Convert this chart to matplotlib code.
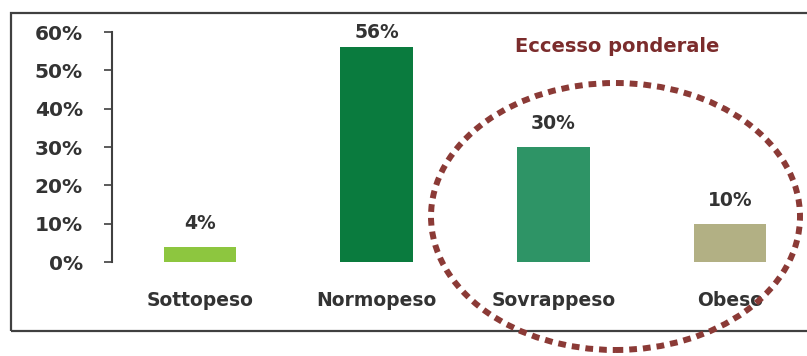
import matplotlib.pyplot as plt
from matplotlib.patches import Ellipse, Rectangle
from matplotlib.ticker import FuncFormatter

# Distribuzione per stato ponderale
categorie = ['Sottopeso', 'Normopeso', 'Sovrappeso', 'Obeso']
valori = [4, 56, 30, 10]
colori = ['#8DC63F', '#0A7B3E', '#2E9466', '#B2B084']
yticks = [0, 10, 20, 30, 40, 50, 60]

plt.rcParams['font.family'] = 'DejaVu Sans'
plt.rcParams['font.weight'] = 'bold'

fig = plt.figure(figsize=(8.07, 3.56), dpi=100)
ax = fig.add_axes([0.1388, 0.264, 0.8612, 0.646])

x = range(len(categorie))
ax.bar(x, valori, width=0.41, color=colori)

ymax = 60
for xi, v in zip(x, valori):
    # l'etichetta resta dentro la cornice quando la barra è alta
    off = 10 if v < ymax - 8 else 4
    ax.annotate(f'{v}%', (xi, v), xytext=(0, off), textcoords='offset points',
                ha='center', va='bottom', fontsize=13.5, fontweight='bold',
                color='#333333')

ax.set_xlim(-0.498, 3.436)
ax.set_ylim(0, ymax)
ax.set_yticks(yticks)
ax.yaxis.set_major_formatter(FuncFormatter(lambda v, p: f'{v:.0f}%'))
ax.set_xticks(list(x))
ax.set_xticklabels(categorie)

for s in ['top', 'right', 'bottom']:
    ax.spines[s].set_visible(False)
ax.spines['left'].set_color('#404040')
ax.spines['left'].set_linewidth(1.5)

ax.tick_params(axis='y', length=6, width=1.2, color='#404040', pad=15,
               labelsize=14.5, labelcolor='#333333')
ax.tick_params(axis='x', length=0, pad=21, labelsize=13.5, labelcolor='#333333')
for lab in ax.get_xticklabels() + ax.get_yticklabels():
    lab.set_fontweight('bold')

# cornice attorno al grafico
W, H = 807, 356
fig.patches.append(Rectangle((11 / W, 1 - 331 / H), 1, (331 - 13) / H,
                             transform=fig.transFigure, fill=False,
                             edgecolor='#404040', linewidth=1.6))

# ellisse tratteggiata per l'eccesso ponderale
fig.patches.append(Ellipse((615.5 / W, 1 - 216.5 / H), 369 / W, 267 / H,
                           transform=fig.transFigure, fill=False,
                           edgecolor='#8B3A36', linewidth=4.3,
                           linestyle=(0, (1.3, 1.0)), zorder=5))
fig.text(617 / W, 1 - 47 / H, 'Eccesso ponderale', ha='center', va='center',
         fontsize=14, fontweight='bold', color='#7B2C2C')

fig.savefig('out.png', dpi=100, facecolor='white')
